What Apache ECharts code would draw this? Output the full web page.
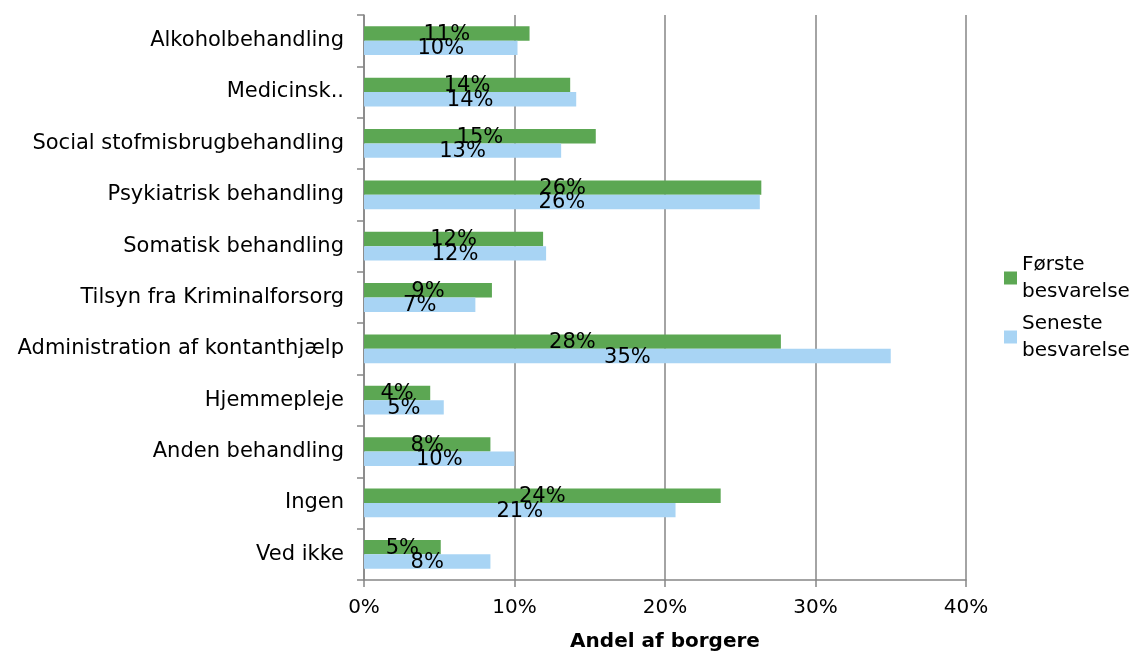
<!DOCTYPE html>
<html>
<head>
<meta charset="utf-8">
<script src="https://cdn.jsdelivr.net/npm/echarts@6/dist/echarts.min.js"></script>
<style>
  html, body { margin: 0; padding: 0; background: #fff; }
  #chart { width: 1134px; height: 653px; }
</style>
</head>
<body>
<div id="chart"></div>
<script>
// categories top to bottom
var categories = [
  "Alkoholbehandling",
  "Medicinsk..",
  "Social stofmisbrugbehandling",
  "Psykiatrisk behandling",
  "Somatisk behandling",
  "Tilsyn fra Kriminalforsorg",
  "Administration af kontanthjælp",
  "Hjemmepleje",
  "Anden behandling",
  "Ingen",
  "Ved ikke"
];
var foersteValues = [11.0, 13.7, 15.4, 26.4, 11.9, 8.5, 27.7, 4.4, 8.4, 23.7, 5.1];
var senesteValues = [10.2, 14.1, 13.1, 26.3, 12.1, 7.4, 35.0, 5.3, 10.0, 20.7, 8.4];
var seriesNames = ["Første\nbesvarelse", "Seneste\nbesvarelse"];
var xTicks = [0, 10, 20, 30, 40];

var font = "DejaVu Sans, Verdana, sans-serif";
var myChart = echarts.init(document.getElementById("chart"));

var barLabel = {
  show: true,
  position: "inside",
  color: "#000",
  fontFamily: font,
  fontSize: 21,
  offset: [0, 1],
  formatter: function (p) { return Math.round(p.value) + "%"; }
};

var option = {
  animation: false,
  textStyle: { fontFamily: font },
  grid: { left: 364, right: 168, top: 15, bottom: 73, outerBoundsMode: "none" },
  legend: {
    orient: "vertical",
    left: 999,
    top: 246,
    itemWidth: 13,
    itemHeight: 13,
    itemGap: 5,
    icon: "rect",
    textStyle: { fontFamily: font, fontSize: 20, color: "#000", lineHeight: 27 },
    data: seriesNames
  },
  xAxis: {
    type: "value",
    min: xTicks[0],
    max: xTicks[xTicks.length - 1],
    interval: 10,
    name: "Andel af borgere",
    nameLocation: "middle",
    nameGap: 52,
    nameTextStyle: { fontFamily: font, fontSize: 20, fontWeight: "bold", color: "#000" },
    axisLine: { show: true, lineStyle: { color: "#868686", width: 1.5 } },
    axisTick: { show: true, length: 7, lineStyle: { color: "#868686", width: 1.5 } },
    axisLabel: {
      color: "#000", fontSize: 20, fontFamily: font, margin: 18,
      formatter: function (v) { return v + "%"; }
    },
    splitLine: { show: true, lineStyle: { color: "#868686", width: 1.5 } }
  },
  yAxis: {
    type: "category",
    inverse: true,
    data: categories,
    axisLine: { show: true, lineStyle: { color: "#868686", width: 1.5 } },
    axisTick: { show: true, length: 7, lineStyle: { color: "#868686", width: 1.5 } },
    axisLabel: { color: "#000", fontSize: 21, fontFamily: font, margin: 20 }
  },
  series: [
    {
      name: seriesNames[0],
      type: "bar",
      data: foersteValues,
      itemStyle: { color: "#5CA753" },
      barGap: "0%",
      barCategoryGap: "44%",
      label: barLabel
    },
    {
      name: seriesNames[1],
      type: "bar",
      data: senesteValues,
      itemStyle: { color: "#A8D4F4" },
      label: barLabel
    }
  ]
};

myChart.setOption(option);
</script>
</body>
</html>
